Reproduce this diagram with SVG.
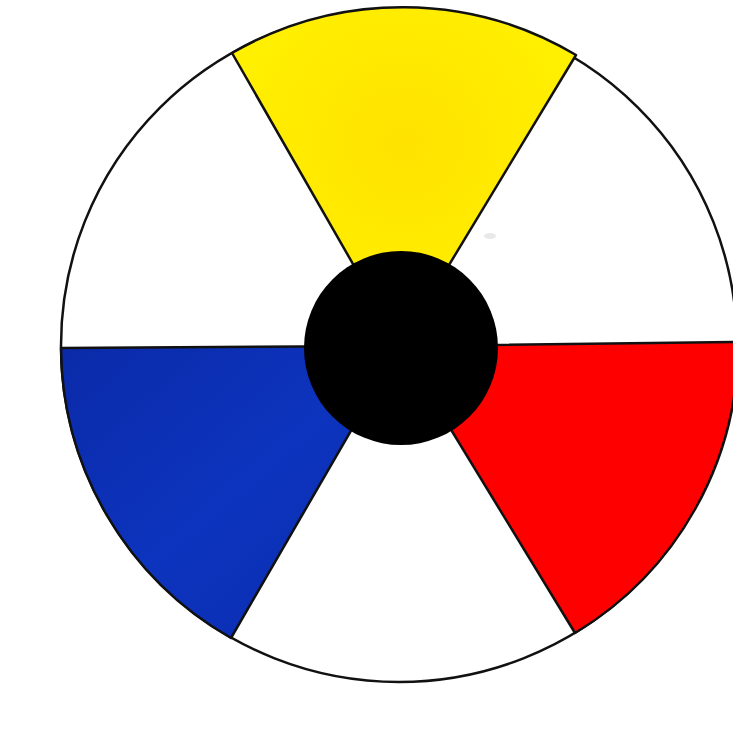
<svg xmlns="http://www.w3.org/2000/svg" width="733" height="733" viewBox="0 0 733 733">
  <defs>
    <radialGradient id="yg" cx="0.5" cy="0.4" r="0.6">
      <stop offset="0" stop-color="#FFE200"/>
      <stop offset="1" stop-color="#FFF200"/>
    </radialGradient>
    <linearGradient id="bg" x1="0" y1="0" x2="1" y2="1">
      <stop offset="0" stop-color="#0A2AA8"/>
      <stop offset="0.5" stop-color="#0D34BE"/>
      <stop offset="1" stop-color="#0A2CB0"/>
    </linearGradient>
  </defs>
  <style>
    .edge { stroke: #111; stroke-width: 2.5; stroke-linejoin: round; }
  </style>
  <rect width="733" height="733" fill="#FFFFFF"/>
  <g id="wheel">
    <ellipse cx="399" cy="345.5" rx="338" ry="336.5" fill="#FFFFFF" class="edge"/>
    <path id="yellow" class="edge" fill="url(#yg)" d="M400 346 L232 53 A338 336.5 0 0 1 576 55 Z"/>
    <path id="red" class="edge" fill="#FF0000" d="M400 346 L738 342 A338 336.5 0 0 1 575 633 Z"/>
    <path id="blue" class="edge" fill="url(#bg)" d="M400 346 L231 638 A338 336.5 0 0 1 61 348 Z"/>
    <circle id="center" cx="401" cy="348" r="97" fill="#000000"/>
  </g>
  <ellipse cx="490" cy="236" rx="6" ry="3" fill="#D8D8D8" opacity="0.6"/>
</svg>
